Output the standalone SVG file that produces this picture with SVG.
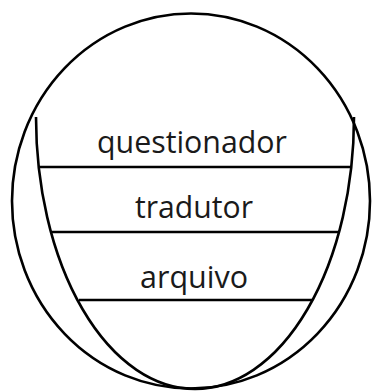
<svg xmlns="http://www.w3.org/2000/svg" width="373" height="391" viewBox="0 0 373 391">
<style>
.s{fill:none;stroke:#000;stroke-width:2.6}
.t{font-family:"Open Sans","Liberation Sans",sans-serif;font-size:31px;fill:#1a1a1a;text-anchor:middle}
</style>
<rect width="373" height="391" fill="#fff"/>
<g id="outer"><ellipse class="s" cx="191" cy="201" rx="179" ry="187.5"/></g>
<g id="cup"><path class="s" d="M36,117 A159,272 0 0 0 354,117"/></g>
<g id="layers">
<line class="s" x1="39" y1="167" x2="351" y2="167"/>
<line class="s" x1="52" y1="232" x2="339" y2="232"/>
<line class="s" x1="79" y1="300" x2="312" y2="300"/>
</g>
<g id="questionador"><text class="t" x="192" y="153" textLength="190" lengthAdjust="spacingAndGlyphs">questionador</text></g>
<g id="tradutor"><text class="t" x="194" y="218" textLength="118" lengthAdjust="spacingAndGlyphs">tradutor</text></g>
<g id="arquivo"><text class="t" x="194" y="288" textLength="108" lengthAdjust="spacingAndGlyphs">arquivo</text></g>
</svg>
